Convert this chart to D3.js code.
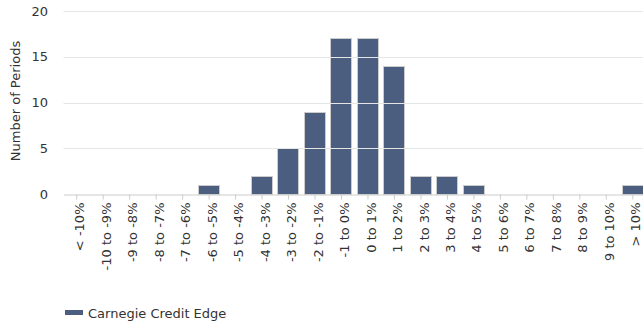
<!DOCTYPE html>
<html>
<head>
<meta charset="utf-8">
<script src="https://cdn.jsdelivr.net/npm/d3@7"></script>
<style>
  html, body { margin: 0; padding: 0; background: #fff; }
  svg { display: block; font-family: "DejaVu Sans", Verdana, sans-serif; }
</style>
</head>
<body>
<svg id="chart" width="643" height="326"></svg>
<script>
// Distribution of monthly returns, bucketed by 1% ranges
const categories = ["< -10%", "-10 to -9%", "-9 to -8%", "-8 to -7%", "-7 to -6%", "-6 to -5%",
  "-5 to -4%", "-4 to -3%", "-3 to -2%", "-2 to -1%", "-1 to 0%", "0 to 1%", "1 to 2%",
  "2 to 3%", "3 to 4%", "4 to 5%", "5 to 6%", "6 to 7%", "7 to 8%", "8 to 9%", "9 to 10%", "> 10%"];
const periods = [0, 0, 0, 0, 0, 1, 0, 2, 5, 9, 17, 17, 14, 2, 2, 1, 0, 0, 0, 0, 0, 1];
const yTicks = [0, 5, 10, 15, 20];
const seriesName = "Carnegie Credit Edge";

const FONT = "DejaVu Sans, Verdana, sans-serif";
const FS = 13;

const svg = d3.select("#chart");
const plot = { left: 63.5, right: 646, top: 11, bottom: 194 };

const x = d3.scaleBand().domain(categories).range([plot.left, plot.right]).paddingInner(0.16).paddingOuter(0.08);
const y = d3.scaleLinear().domain([0, 20]).range([plot.bottom, plot.top]);

// bars
svg.append("g").selectAll("rect").data(periods).join("rect")
  .attr("x", (d, i) => Math.round(x(categories[i])) + 0.5)
  .attr("y", d => Math.round(y(d)) + 0.5)
  .attr("width", Math.round(x.bandwidth()) - 1)
  .attr("height", d => Math.max(0, Math.round(y(0)) - Math.round(y(d))))
  .attr("fill", "#4b5e80")
  .attr("stroke", "#cccccc")
  .attr("stroke-width", 1)
  .attr("display", d => d > 0 ? null : "none");

// horizontal grid lines, drawn over the columns
svg.append("g").selectAll("line").data(yTicks.filter(t => t > 0)).join("line")
  .attr("x1", plot.left).attr("x2", 643)
  .attr("y1", d => Math.round(y(d)) + 0.5).attr("y2", d => Math.round(y(d)) + 0.5)
  .attr("stroke", "#e6e6e6").attr("stroke-width", 1);

// y axis labels
const yAxis = d3.axisLeft(y).tickValues(yTicks).tickSize(0).tickPadding(0);
const yg = svg.append("g").attr("transform", "translate(48,0)").call(yAxis);
yg.select(".domain").remove();
yg.selectAll("text").attr("font-size", FS).attr("fill", "#333").attr("font-family", FONT);

// x axis
const xAxis = d3.axisBottom(x).tickSize(5).tickSizeOuter(0);
const xg = svg.append("g").attr("transform", `translate(0,${Math.round(y(0)) + 0.5})`).call(xAxis);
xg.select(".domain").attr("stroke", "#cccccc");
xg.selectAll(".tick line").attr("stroke", "#cccccc");
xg.selectAll(".tick text")
  .attr("font-size", FS).attr("fill", "#333").attr("font-family", FONT)
  .attr("text-anchor", "end")
  .attr("transform", "translate(3,8) rotate(-90)")
  .attr("x", 0).attr("y", 0).attr("dy", "0.35em");

// y axis title
svg.append("text")
  .attr("transform", "translate(20,101) rotate(-90)")
  .attr("text-anchor", "middle")
  .attr("font-size", FS).attr("fill", "#333").attr("font-family", FONT)
  .text("Number of Periods");

// legend
const legend = svg.append("g");
legend.append("rect").attr("x", 65).attr("y", 310).attr("width", 18).attr("height", 5)
  .attr("fill", "#4b5e80");
legend.append("text").attr("x", 88).attr("y", 318).attr("font-size", FS).attr("fill", "#333")
  .attr("font-family", FONT)
  .text(seriesName);
</script>
</body>
</html>
